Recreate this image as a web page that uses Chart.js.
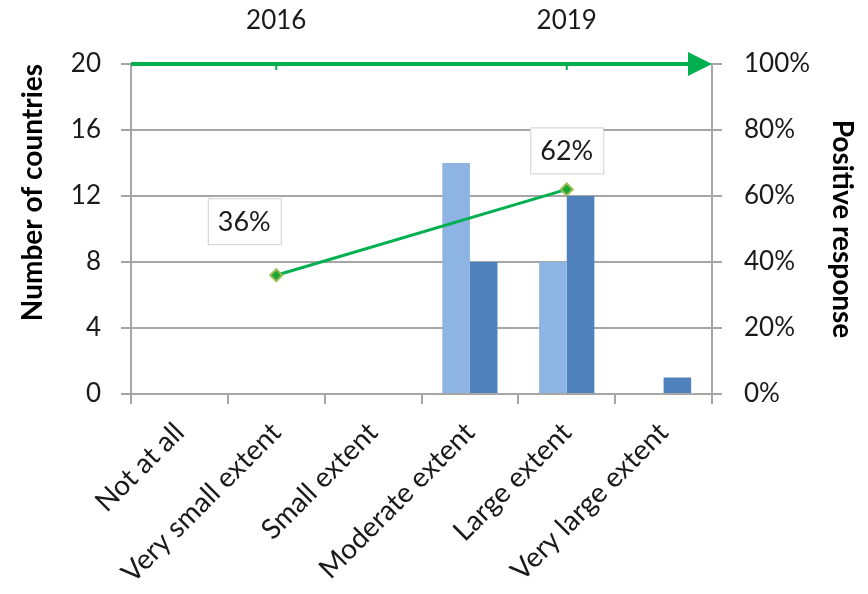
<!DOCTYPE html>
<html>
<head>
<meta charset="utf-8">
<script src="https://cdn.jsdelivr.net/npm/chart.js@4/dist/chart.umd.min.js"></script>
<style>
  html, body { margin: 0; padding: 0; background: #fff; }
  #wrap { position: relative; width: 868px; height: 594px; }
</style>
</head>
<body>
<div id="wrap"><canvas id="chart"></canvas></div>
<script>
// --- data ---
const categories = ['Not at all', 'Very small extent', 'Small extent', 'Moderate extent', 'Large extent', 'Very large extent'];
const yearLabels = ['', '2016', '', '', '2019', ''];
const countries2016 = [0, 0, 0, 14, 8, 0];
const countries2019 = [0, 0, 0, 8, 12, 1];
const positiveResponse = [null, 36, null, null, 62, null];

const FONT = 'Lato, "Open Sans", sans-serif';
const GRID = '#a6a6a6';
const GREEN = '#00b050';
const TEXT = '#1a1a1a';

// value boxes + green time arrow on top
const overlay = {
  id: 'overlay',
  afterDatasetsDraw(chart) {
    const ctx = chart.ctx;
    const area = chart.chartArea;
    const x = chart.scales.x;

    // arrow along the top edge
    ctx.save();
    ctx.strokeStyle = GREEN;
    ctx.fillStyle = GREEN;
    ctx.lineWidth = 4;
    ctx.beginPath();
    ctx.moveTo(area.left, area.top);
    ctx.lineTo(area.right - 18, area.top);
    ctx.stroke();
    ctx.beginPath();
    ctx.moveTo(area.right, area.top);
    ctx.lineTo(area.right - 24, area.top - 12);
    ctx.lineTo(area.right - 24, area.top + 12);
    ctx.closePath();
    ctx.fill();
    ctx.lineWidth = 2;
    yearLabels.forEach((l, i) => {
      if (!l) return;
      const px = x.getPixelForValue(i);
      ctx.beginPath();
      ctx.moveTo(px, area.top);
      ctx.lineTo(px, area.top + 6);
      ctx.stroke();
    });
    ctx.restore();

    // percentage boxes
    const meta = chart.getDatasetMeta(2);
    const offsets = { 1: [-32, -54], 4: [0, -39] };
    ctx.save();
    ctx.font = '27px ' + FONT;
    ctx.textAlign = 'center';
    ctx.textBaseline = 'middle';
    positiveResponse.forEach((v, i) => {
      if (v == null) return;
      const pt = meta.data[i];
      const cx = pt.x + offsets[i][0];
      const cy = pt.y + offsets[i][1];
      const w = 73, h = 46;
      ctx.fillStyle = '#fff';
      ctx.fillRect(cx - w / 2, cy - h / 2, w, h);
      ctx.strokeStyle = '#d0d0d0';
      ctx.lineWidth = 1;
      ctx.strokeRect(cx - w / 2 + 0.5, cy - h / 2 + 0.5, w, h);
      ctx.fillStyle = TEXT;
      ctx.fillText(v + '%', cx, cy + 1);
    });
    ctx.restore();
  }
};

new Chart(document.getElementById('chart'), {
  type: 'bar',
  data: {
    labels: categories,
    datasets: [
      {
        label: '2016',
        data: countries2016,
        backgroundColor: '#8eb4e3',
        yAxisID: 'y',
        categoryPercentage: 0.57,
        barPercentage: 1.0,
        order: 2
      },
      {
        label: '2019',
        data: countries2019,
        backgroundColor: '#4f81bd',
        yAxisID: 'y',
        categoryPercentage: 0.57,
        barPercentage: 1.0,
        order: 2
      },
      {
        type: 'line',
        label: 'Positive response',
        data: positiveResponse,
        yAxisID: 'y1',
        borderColor: GREEN,
        borderWidth: 3,
        spanGaps: true,
        pointStyle: 'rectRot',
        pointRadius: 6,
        pointBackgroundColor: '#1aa832',
        pointBorderColor: '#9bbb59',
        pointBorderWidth: 2,
        order: 1
      }
    ]
  },
  options: {
    responsive: true,
    maintainAspectRatio: false,
    animation: false,
    layout: { padding: 0 },
    plugins: {
      legend: { display: false },
      tooltip: { enabled: false }
    },
    scales: {
      x: {
        offset: true,
        grid: { offset: true, drawOnChartArea: false, color: GRID, lineWidth: 2, tickLength: 10 },
        border: { display: true, color: GRID, width: 2 },
        ticks: { minRotation: 45, maxRotation: 45, color: TEXT, font: { family: FONT, size: 28 }, padding: 12 },
        afterFit: s => { s.height = 200; }
      },
      x2: {
        type: 'category',
        labels: yearLabels,
        position: 'top',
        offset: true,
        grid: { display: false, drawTicks: false },
        border: { display: false },
        ticks: { color: TEXT, font: { family: FONT, size: 26 }, padding: 28, autoSkip: false, maxRotation: 0 },
        afterFit: s => { s.height = 64; }
      },
      y: {
        position: 'left',
        min: 0, max: 20,
        ticks: { stepSize: 4, color: TEXT, font: { family: FONT, size: 26 }, padding: 20 },
        grid: { color: GRID, lineWidth: 2, tickLength: 10 },
        border: { display: true, color: GRID, width: 2 },
        title: { display: true, text: 'Number of countries', align: 'end', color: '#000', font: { family: FONT, size: 28, weight: 'bold' }, padding: { top: 16, bottom: 0 } },
        afterFit: s => { s.width = 131; }
      },
      y1: {
        position: 'right',
        min: 0, max: 100,
        ticks: { stepSize: 20, color: TEXT, font: { family: FONT, size: 26 }, padding: 22, callback: v => v + '%' },
        grid: { drawOnChartArea: false, color: GRID, lineWidth: 2, tickLength: 10 },
        border: { display: true, color: GRID, width: 2 },
        title: { display: true, text: 'Positive response', color: '#000', font: { family: FONT, size: 28, weight: 'bold' }, padding: { top: 9, bottom: 0 } },
        afterFit: s => { s.width = 156; }
      }
    }
  },
  plugins: [overlay]
});
</script>
</body>
</html>
